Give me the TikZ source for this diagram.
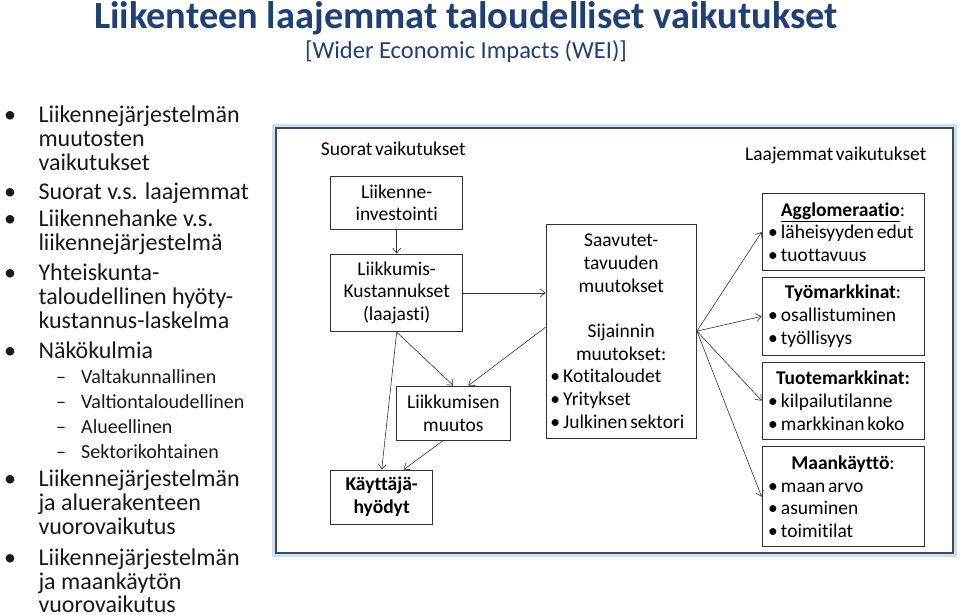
\documentclass[tikz,border=0pt]{standalone}
\usepackage{fontspec}
\setmainfont{Carlito}
\newfontfamily\kaavio[WordSpace=0.6, Ligatures=NoCommon]{Carlito}
\usetikzlibrary{arrows.meta, positioning, calc}
\definecolor{otsikkosini}{RGB}{31,64,115}
\definecolor{kehysharmaa}{RGB}{62,74,88}
\definecolor{kehysvalo}{RGB}{205,223,240}
\newcommand{\keski}[1]{\makebox[\hsize]{#1}}
\newcommand{\luettelo}[1]{\makebox[\hsize][l]{\spaceskip=0pt\xspaceskip=0pt •\,#1}}

\begin{document}
\begin{tikzpicture}[x=1pt, y=-1pt,
    laatikko/.style={rectangle, draw=black!80, line width=0.8pt, inner sep=0pt, font=\kaavio\fontsize{19.5}{22.7}\selectfont},
    oikea/.style={laatikko, minimum width=162pt, text width=150pt, align=left},
    nuoli/.style={-{Straight Barb[length=5pt, width=8pt]}, line width=0.6pt, draw=black!80},
    rivi/.style={anchor=base west, inner sep=0pt, font=\fontsize{24}{24}\selectfont, text=black!90},
    alarivi/.style={anchor=base west, inner sep=0pt, font=\fontsize{20}{20}\selectfont, text=black!90},
  ]
    \useasboundingbox (0,0) rectangle (960,614);

    % Otsikko
    \node[anchor=base, inner sep=0pt, text=otsikkosini, font=\fontsize{38.4}{38}\selectfont\bfseries] (otsikko) at (466,28.5) {Liikenteen laajemmat taloudelliset vaikutukset};
    \node[anchor=base, inner sep=0pt, text=otsikkosini, font=\fontsize{24.5}{24.5}\selectfont] (alaotsikko) at (466,58.5) {[Wider Economic Impacts (WEI)]};

    % Vasen palsta
    \foreach \y/\teksti [count=\i] in {122.7/Liikennejärjestelmän, 146.7/muutosten, 170/vaikutukset,
        199.3/Suorat v.s. laajemmat, 226.7/Liikennehanke v.s., 250.7/liikennejärjestelmä,
        280.7/Yhteiskunta-, 304.7/taloudellinen hyöty-, 328.7/kustannus-laskelma, 358.3/Näkökulmia,
        486.7/Liikennejärjestelmän, 510.7/ja aluerakenteen, 534.7/vuorovaikutus,
        565/Liikennejärjestelmän, 589/ja maankäytön, 612/vuorovaikutus}
      \node[rivi] (rivi\i) at (38.3,\y) {\teksti};
    \foreach \y [count=\i] in {122.7, 199.3, 226.7, 280.7, 358.3, 486.7, 565}
      \node[rivi] (pallo\i) at (4,\y) {•};
    \foreach \y/\teksti [count=\i] in {383.3/Valtakunnallinen, 408.3/Valtiontaloudellinen,
        433.3/Alueellinen, 458.3/Sektorikohtainen}
    {
      \node[alarivi] (ala\i) at (81,\y) {\teksti};
      \node[alarivi] (viiva\i) at (56,\y) {–};
    }

    % Kehys
    \draw[kehysvalo, line width=2.5pt] (273.5,125.5) rectangle (955.5,555.5);
    \draw[kehysharmaa, line width=1.6pt] (276,128) rectangle (953,553);

    \node[anchor=base west, inner sep=0pt, font=\kaavio\fontsize{19.5}{22.7}\selectfont] (suorat) at (320.7,155) {Suorat vaikutukset};
    \node[anchor=base west, inner sep=0pt, font=\kaavio\fontsize{19.5}{22.7}\selectfont] (laajemmat) at (745,160.7) {Laajemmat vaikutukset};

    % Suorat vaikutukset
    \node[laatikko, minimum width=132pt, minimum height=53.3pt, text width=128pt, align=center] (inv) at (396.7,202.65) {Liikenne-\\investointi};
    \node[laatikko, minimum width=132pt, minimum height=77.7pt, text width=128pt, align=center] (kust) at (396.7,292.85) {Liikkumis-\\Kustannukset\\(laajasti)};
    \node[laatikko, minimum width=150.5pt, minimum height=214.3pt, text width=142pt, align=left] (saav) at (621.25,331.15) {%
      \keski{Saavutet-}\\\keski{tavuuden}\\\keski{muutokset}\\[22.7pt]\keski{Sijainnin}\\\keski{muutokset:}\\
      \luettelo{Kotitaloudet}\\\luettelo{Yritykset}\\\luettelo{Julkinen sektori}};
    \node[laatikko, minimum width=114.7pt, minimum height=54pt, text width=110pt, align=center] (liik) at (453.35,413) {Liikkumisen\\muutos};
    \node[laatikko, minimum width=102pt, minimum height=54pt, text width=98pt, align=center, font=\kaavio\fontsize{19.5}{22.7}\selectfont\bfseries] (hyod) at (381.7,497) {Käyttäjä-\\hyödyt};

    % Laajemmat vaikutukset
    \node[oikea, minimum height=77.4pt] (agglo) at (843,232) {%
      \keski{\underline{\textbf{Agglomeraatio}}:}\\\luettelo{läheisyyden edut}\\\luettelo{tuottavuus}};
    \node[oikea, minimum height=77.3pt] (tyo) at (843,316.35) {%
      \keski{\textbf{Työmarkkinat}:}\\\luettelo{osallistuminen}\\\luettelo{työllisyys}};
    \node[oikea, minimum height=76.7pt] (tuote) at (843,400.65) {%
      \keski{\textbf{Tuotemarkkinat:}}\\\luettelo{kilpailutilanne}\\\luettelo{markkinan koko}};
    \node[oikea, minimum height=100pt] (maa) at (843,496.7) {%
      \keski{\textbf{Maankäyttö}:}\\\luettelo{maan arvo}\\\luettelo{asuminen}\\\luettelo{toimitilat}};

    % Nuolet
    \draw[nuoli] (inv) -- (kust);
    \draw[nuoli] (kust.east) -- (kust.east -| saav.west);
    \draw[nuoli] (kust.south) -- (liik.north);
    \draw[nuoli] ([yshift=4pt]saav.west) -- ([xshift=15pt]liik.north);
    \draw[nuoli] (kust.south) -- (hyod.north);
    \draw[nuoli] ([xshift=-10pt]liik.south) -- ([xshift=22pt]hyod.north);
    \foreach \k in {agglo, tyo, tuote, maa}
      \draw[nuoli] (saav.east) -- (\k.west);

\end{tikzpicture}
\end{document}
